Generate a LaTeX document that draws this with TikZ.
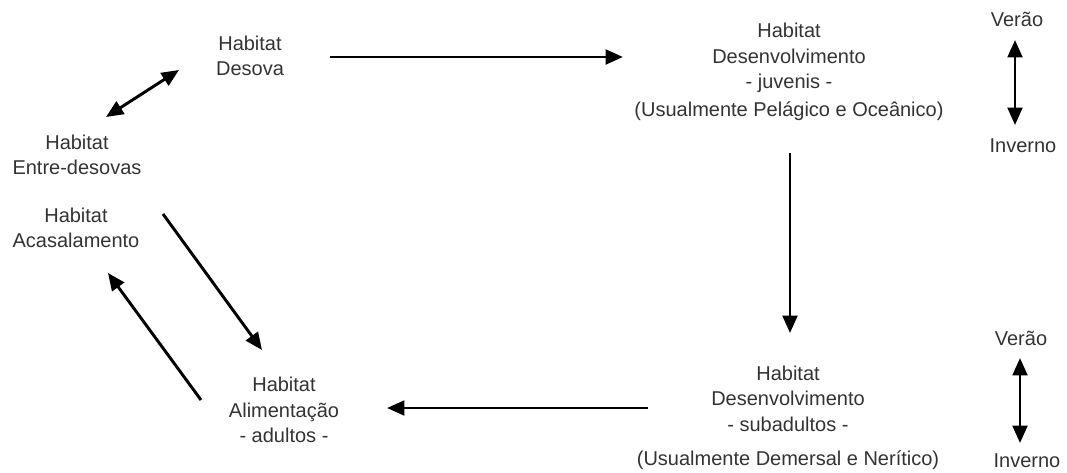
\documentclass[tikz,border=0pt]{standalone}
\usepackage{fontspec}
\setmainfont{Liberation Sans}
\usetikzlibrary{arrows.meta}

\tikzset{
	habitat/.style = {align=center, inner sep=1pt, text=black!80, font=\fontsize{15}{19}\selectfont},
	seta/.style = {line width=2.2pt, -{Triangle[length=13pt,width=11pt]}},
	setadupla/.style = {line width=2.2pt, {Triangle[length=13pt,width=11pt]}-{Triangle[length=13pt,width=11pt]}}
}

\begin{document}
\begin{tikzpicture}[x=0.75pt, y=-0.75pt]
	\useasboundingbox (0,0) rectangle (1067,472);

	\node[habitat] (desova) at (250,56) {Habitat\\Desova};
	\node[habitat] (entre) at (77,155) {Habitat\\Entre-desovas};
	\node[habitat] (acasal) at (76,228) {Habitat\\Acasalamento};
	\node[habitat] (alim) at (284,410) {Habitat\\Alimentação\\- adultos -};
	\node[habitat] (juvenis) at (789,72) {Habitat\\Desenvolvimento\\- juvenis -\\[2pt](Usualmente Pelágico e Oceânico)};
	\node[habitat] (subadultos) at (788,418) {Habitat\\Desenvolvimento\\- subadultos -\\[7pt](Usualmente Demersal e Nerítico)};

	\node[habitat] (verao1) at (1017,19) {Verão};
	\node[habitat] (inverno1) at (1023,146) {Inverno};
	\node[habitat] (verao2) at (1021,338) {Verão};
	\node[habitat] (inverno2) at (1027,461) {Inverno};

	\draw[setadupla] ([shift={(29,-38)}]entre.center) -- ([shift={(-71,14)}]desova.center);
	\draw[seta] ([shift={(80,1)}]desova.center) -- ([shift={(-166,-15)}]juvenis.center);
	\draw[seta] ([shift={(1,81)}]juvenis.center) -- ([shift={(2,-85)}]subadultos.center);
	\draw[seta] ([shift={(-140,-10)}]subadultos.center) -- ([shift={(103,-2)}]alim.center);
	\draw[seta] ([shift={(87,-14)}]acasal.center) -- ([shift={(-22,-60)}]alim.center);
	\draw[seta] ([shift={(-83,-10)}]alim.center) -- ([shift={(32,45)}]acasal.center);

	\draw[setadupla] ([shift={(-2,21)}]verao1.center) -- ([shift={(-8,-21)}]inverno1.center);
	\draw[setadupla] ([shift={(-1,20)}]verao2.center) -- ([shift={(-7,-18)}]inverno2.center);
\end{tikzpicture}
\end{document}
